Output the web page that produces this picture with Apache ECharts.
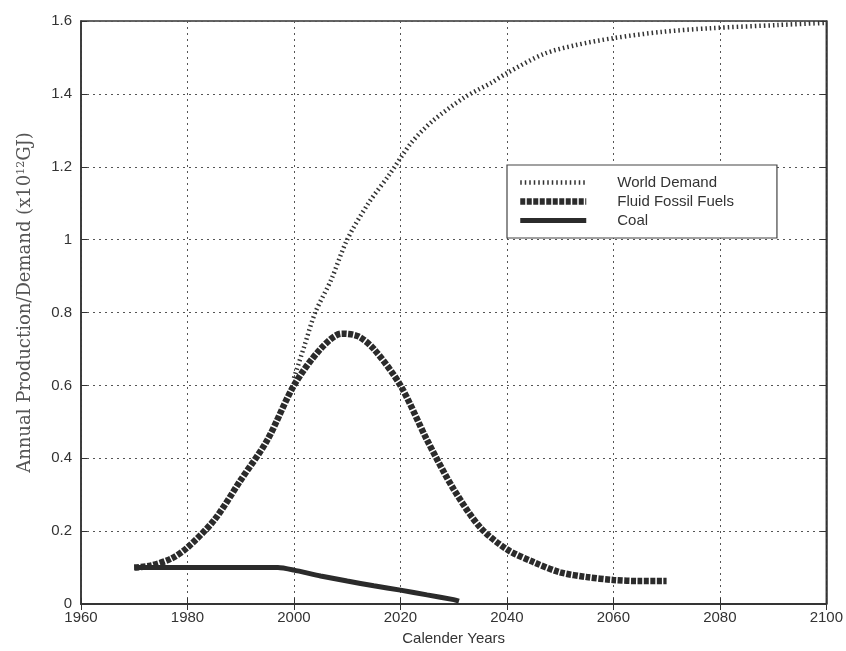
<!DOCTYPE html>
<html>
<head>
<meta charset="utf-8">
<script src="https://cdn.jsdelivr.net/npm/echarts@6/dist/echarts.min.js"></script>
<style>html,body{margin:0;padding:0;background:#fff}#c{width:846px;height:651px}</style>
</head>
<body>
<div id="c"></div>
<script>
// ---- data ----
const xTicks = [1960, 1980, 2000, 2020, 2040, 2060, 2080, 2100];
const yTicks = [0, 0.2, 0.4, 0.6, 0.8, 1, 1.2, 1.4, 1.6];

const demandYears  = [2000, 2002, 2004, 2007, 2010, 2014, 2018, 2022, 2026, 2032, 2037, 2040, 2047, 2053, 2060, 2069, 2078, 2091, 2100];
const demandValues = [0.62, 0.71, 0.80, 0.89, 1.00, 1.10, 1.18, 1.265, 1.325, 1.39, 1.43, 1.457, 1.51, 1.534, 1.553, 1.57, 1.58, 1.589, 1.595];

const fossilYears  = [1970, 1973, 1977, 1980, 1985, 1990, 1995, 2000, 2005, 2009, 2012, 2015, 2020, 2025, 2030, 2035, 2040, 2045, 2050, 2055, 2060, 2065, 2070];
const fossilValues = [0.10, 0.105, 0.125, 0.155, 0.23, 0.34, 0.45, 0.60, 0.70, 0.742, 0.735, 0.70, 0.60, 0.45, 0.315, 0.21, 0.15, 0.115, 0.087, 0.074, 0.066, 0.063, 0.063];

const coalYears  = [1970, 1997, 2000, 2005, 2010, 2015, 2020, 2025, 2030, 2031];
const coalValues = [0.10, 0.10, 0.093, 0.077, 0.063, 0.05, 0.038, 0.025, 0.012, 0.008];

const seriesNames = ['World Demand', 'Fluid Fossil Fuels', 'Coal'];

const pairs = (xs, ys) => xs.map((x, i) => [x, ys[i]]);

const chart = echarts.init(document.getElementById('c'), null, {renderer: 'canvas'});
const ink = '#2b2b2b';
const gridLine = {show: true, lineStyle: {color: '#555', type: [2, 4], width: 1}};

const demandStyle = {color: '#333', width: 4.5, type: [1.5, 3]};
const fossilStyle = {color: ink, width: 6.5, type: [5, 1.5]};
const coalStyle = {color: ink, width: 5, type: 'solid'};

chart.setOption({
  backgroundColor: '#fff',
  animation: false,
  grid: {left: 81, right: 18, top: 21, bottom: 46, show: true, borderColor: '#333', borderWidth: 1.5, backgroundColor: 'transparent'},
  legend: {
    orient: 'vertical',
    left: 507, top: 165,
    padding: [10, 43, 10, 10],
    itemWidth: 66, itemHeight: 12, itemGap: 4,
    borderColor: '#444', borderWidth: 1.2,
    backgroundColor: '#fff',
    itemStyle: {opacity: 0},
    data: [
      {name: seriesNames[0], lineStyle: demandStyle},
      {name: seriesNames[1], lineStyle: fossilStyle},
      {name: seriesNames[2], lineStyle: coalStyle}
    ],
    textStyle: {fontFamily: 'Liberation Sans', fontSize: 15, lineHeight: 14, color: '#333', padding: [0, 0, 0, 26]}
  },
  xAxis: [{
    type: 'value', min: xTicks[0], max: xTicks[xTicks.length - 1], interval: 20,
    name: 'Calender Years', nameLocation: 'middle', nameGap: 27,
    nameTextStyle: {fontFamily: 'Liberation Sans', fontSize: 15, color: '#333'},
    axisLine: {show: true, lineStyle: {color: '#333', width: 1.5}},
    axisTick: {show: true, inside: true, length: 6, lineStyle: {color: '#333'}},
    axisLabel: {fontFamily: 'Liberation Sans', fontSize: 15, color: '#333', margin: 6, formatter: v => String(v)},
    splitLine: gridLine
  }, {
    type: 'value', position: 'top', min: xTicks[0], max: xTicks[xTicks.length - 1], interval: 20,
    axisLine: {show: true, lineStyle: {color: '#333', width: 1.5}},
    axisTick: {show: true, inside: true, length: 6, lineStyle: {color: '#333'}},
    axisLabel: {show: false}, splitLine: {show: false}
  }],
  yAxis: [{
    type: 'value', min: yTicks[0], max: yTicks[yTicks.length - 1], interval: 0.2,
    name: 'Annual Production/Demand (x10{sup|12}GJ)', nameLocation: 'middle', nameGap: 46, nameRotate: 90,
    nameTextStyle: {fontFamily: 'DejaVu Serif', fontSize: 18, color: '#555', padding: [0, 0, 0, 20],
      rich: {sup: {fontFamily: 'DejaVu Serif', fontSize: 11, color: '#555', verticalAlign: 'top', padding: [0, 0, 8, 0]}}},
    axisLine: {show: true, lineStyle: {color: '#333', width: 1.5}},
    axisTick: {show: true, inside: true, length: 6, lineStyle: {color: '#333'}},
    axisLabel: {fontFamily: 'Liberation Sans', fontSize: 15, color: '#333', margin: 9},
    splitLine: gridLine
  }, {
    type: 'value', position: 'right', min: yTicks[0], max: yTicks[yTicks.length - 1], interval: 0.2,
    axisLine: {show: true, lineStyle: {color: '#333', width: 1.5}},
    axisTick: {show: true, inside: true, length: 6, lineStyle: {color: '#333'}},
    axisLabel: {show: false}, splitLine: {show: false}
  }],
  series: [{
    name: seriesNames[0], type: 'line', data: pairs(demandYears, demandValues),
    smooth: 0.3, showSymbol: false, symbol: 'none', z: 3,
    lineStyle: demandStyle, itemStyle: {color: '#333'}
  }, {
    name: seriesNames[1], type: 'line', data: pairs(fossilYears, fossilValues),
    smooth: 0.3, showSymbol: false, symbol: 'none', z: 4,
    lineStyle: fossilStyle, itemStyle: {color: ink}
  }, {
    name: seriesNames[2], type: 'line', data: pairs(coalYears, coalValues),
    smooth: 0.2, showSymbol: false, symbol: 'none', z: 4,
    lineStyle: coalStyle, itemStyle: {color: ink}
  }]
});
</script>
</body>
</html>
